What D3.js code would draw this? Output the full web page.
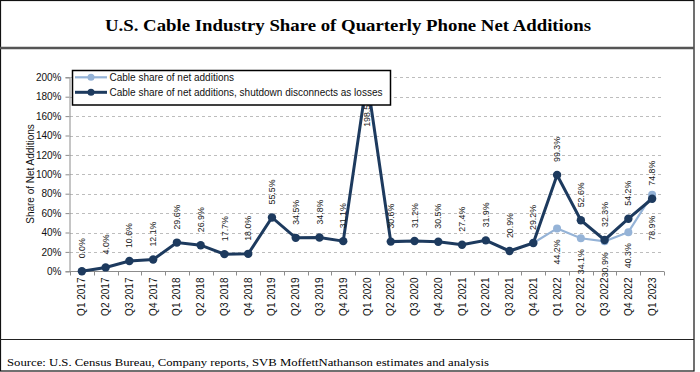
<!DOCTYPE html>
<html>
<head>
    <title>U.S. Cable Industry Share of Quarterly Phone Net Additions</title>
    <script src="https://d3js.org/d3.v7.min.js"></script>
    <style>
        body { margin: 0; background: #fff; }
        text { font-family: "Liberation Sans", Arial, sans-serif; }
        .serif { font-family: "Liberation Serif", "Times New Roman", serif; }
    </style>
</head>
<body>
    <svg id="chart"></svg>

    <script>
        // Quarters on the x axis
        const quarters = [
            'Q1 2017', 'Q2 2017', 'Q3 2017', 'Q4 2017',
            'Q1 2018', 'Q2 2018', 'Q3 2018', 'Q4 2018',
            'Q1 2019', 'Q2 2019', 'Q3 2019', 'Q4 2019',
            'Q1 2020', 'Q2 2020', 'Q3 2020', 'Q4 2020',
            'Q1 2021', 'Q2 2021', 'Q3 2021', 'Q4 2021',
            'Q1 2022', 'Q2 2022', 'Q3 2022', 'Q4 2022',
            'Q1 2023'
        ];

        // Cable share, shutdown disconnects as losses (%)
        const shutdownShare = [
            0.0, 4.0, 10.6, 12.1,
            29.6, 26.9, 17.7, 18.0,
            55.5, 34.5, 34.8, 31.1,
            198.5, 30.6, 31.2, 30.5,
            27.4, 31.9, 20.9, 29.2,
            99.3, 52.6, 32.3, 54.2,
            74.8
        ];

        // Cable share of net additions (%), only differs from 2022 on
        const cableShare = [
            null, null, null, null,
            null, null, null, null,
            null, null, null, null,
            null, null, null, null,
            null, null, null, 29.2,
            44.2, 34.1, 30.9, 40.3,
            78.9
        ];

        const yTicks = [0, 20, 40, 60, 80, 100, 120, 140, 160, 180, 200];

        const seriesNames = [
            'Cable share of net additions',
            'Cable share of net additions, shutdown disconnects as losses'
        ];

        const width = 700;
        const height = 372;
        const darkColor = '#1d3a5e';
        const lightColor = '#95b3d7';

        const svg = d3.select('#chart')
            .attr('width', width)
            .attr('height', height);

        // Frame, title and source
        svg.append('rect')
            .attr('x', 0.5).attr('y', 0.5)
            .attr('width', 693.5).attr('height', 370.5)
            .attr('fill', 'none').attr('stroke', '#111').attr('stroke-width', 1.2);

        svg.append('line')
            .attr('x1', 0).attr('x2', 694)
            .attr('y1', 48).attr('y2', 48)
            .attr('stroke', '#555').attr('stroke-width', 2.5);

        svg.append('line')
            .attr('x1', 0).attr('x2', 694)
            .attr('y1', 339.5).attr('y2', 339.5)
            .attr('stroke', '#222').attr('stroke-width', 1);

        svg.append('text')
            .attr('class', 'serif')
            .attr('x', 348).attr('y', 31)
            .attr('text-anchor', 'middle')
            .attr('font-size', 16.5)
            .attr('font-weight', 'bold')
            .attr('textLength', 486)
            .attr('lengthAdjust', 'spacingAndGlyphs')
            .text('U.S. Cable Industry Share of Quarterly Phone Net Additions');

        svg.append('text')
            .attr('class', 'serif')
            .attr('x', 7).attr('y', 366)
            .attr('font-size', 11)
            .attr('textLength', 482)
            .attr('lengthAdjust', 'spacingAndGlyphs')
            .text('Source: U.S. Census Bureau, Company reports, SVB MoffettNathanson estimates and analysis');

        // Scales
        const xScale = d3.scaleBand()
            .domain(quarters)
            .range([70, 664]);

        const yScale = d3.scaleLinear()
            .domain([0, 200])
            .range([271.3, 77.3]);

        const cx = (d, i) => xScale(quarters[i]) + xScale.bandwidth() / 2;

        // Gridlines
        svg.append('g')
            .selectAll('line')
            .data(yTicks.filter(t => t > 0))
            .enter()
            .append('line')
            .attr('x1', 70).attr('x2', 664)
            .attr('y1', d => Math.round(yScale(d)) + 0.5)
            .attr('y2', d => Math.round(yScale(d)) + 0.5)
            .attr('stroke', '#bdbdbd')
            .attr('stroke-dasharray', '3,3');

        // Y axis
        const yAxis = svg.append('g')
            .attr('transform', 'translate(69.5,0)')
            .call(d3.axisLeft(yScale).tickValues(yTicks).tickSize(4).tickFormat(d => d + '%'));
        yAxis.select('.domain').attr('stroke', '#8c8c8c');
        yAxis.selectAll('.tick line').attr('stroke', '#8c8c8c');
        yAxis.selectAll('.tick text')
            .attr('font-family', '"Liberation Sans", Arial, sans-serif')
            .attr('font-size', 10)
            .attr('fill', '#111')
            .attr('x', -8);

        // X axis with ticks between categories
        const xAxisG = svg.append('g')
            .attr('transform', 'translate(0,271.5)');
        xAxisG.append('line')
            .attr('x1', 69.5).attr('x2', 664)
            .attr('stroke', '#8c8c8c');
        xAxisG.selectAll('.xt')
            .data(quarters.concat(['end']))
            .enter()
            .append('line')
            .attr('class', 'xt')
            .attr('x1', (d, i) => Math.round(70 + i * xScale.step()) + 0.5)
            .attr('x2', (d, i) => Math.round(70 + i * xScale.step()) + 0.5)
            .attr('y1', 0).attr('y2', 4)
            .attr('stroke', '#8c8c8c');
        xAxisG.selectAll('.xl')
            .data(quarters)
            .enter()
            .append('text')
            .attr('class', 'xl')
            .attr('transform', d => `translate(${xScale(d) + xScale.bandwidth() / 2},6) rotate(-90)`)
            .attr('text-anchor', 'end')
            .attr('dy', '0.35em')
            .attr('font-size', 10)
            .attr('fill', '#111')
            .text(d => d);

        // Axis title
        svg.append('text')
            .attr('transform', 'translate(30,174) rotate(-90)')
            .attr('text-anchor', 'middle')
            .attr('dy', '0.35em')
            .attr('font-size', 10)
            .attr('fill', '#111')
            .text('Share of Net Additions');

        // Lines
        const lightLine = d3.line()
            .defined(d => d !== null)
            .x(cx)
            .y(d => yScale(d));

        const darkLine = d3.line()
            .x(cx)
            .y(d => yScale(d));

        svg.append('path')
            .datum(cableShare)
            .attr('d', lightLine)
            .attr('fill', 'none')
            .attr('stroke', lightColor)
            .attr('stroke-width', 2.2);

        svg.selectAll('.lightDot')
            .data(cableShare)
            .enter()
            .filter(d => d !== null)
            .append('circle')
            .attr('class', 'lightDot')
            .attr('cx', (d, i) => cx(d, cableShare.indexOf(d)))
            .attr('cy', d => yScale(d))
            .attr('r', 4)
            .attr('fill', lightColor);

        svg.append('path')
            .datum(shutdownShare)
            .attr('d', darkLine)
            .attr('fill', 'none')
            .attr('stroke', darkColor)
            .attr('stroke-width', 3);

        svg.selectAll('.darkDot')
            .data(shutdownShare)
            .enter()
            .append('circle')
            .attr('class', 'darkDot')
            .attr('cx', cx)
            .attr('cy', d => yScale(d))
            .attr('r', 4.2)
            .attr('fill', darkColor);

        // Data labels: dark series above the point
        svg.selectAll('.darkLabel')
            .data(shutdownShare)
            .enter()
            .append('text')
            .attr('class', 'darkLabel')
            .attr('text-anchor', 'start')
            .attr('dy', '0.35em')
            .attr('font-size', 8.8)
            .attr('fill', '#1a1a1a')
            .text(d => d.toFixed(1) + '%')
            .each(function(d, i) {
                const len = this.getComputedTextLength();
                const bottom = Math.max(yScale(d) - 13, 97 + len);
                d3.select(this).attr('transform', `translate(${cx(d, i)},${bottom}) rotate(-90)`);
            });

        // Light series labels below the point, where the series differs
        const lightIdx = d3.range(20, 25);
        svg.selectAll('.lightLabel')
            .data(lightIdx)
            .enter()
            .append('text')
            .attr('class', 'lightLabel')
            .attr('transform', i => `translate(${cx(null, i)},${yScale(cableShare[i]) + (i === 24 ? 21 : 11)}) rotate(-90)`)
            .attr('text-anchor', 'end')
            .attr('dy', '0.35em')
            .attr('font-size', 8.8)
            .attr('fill', '#1a1a1a')
            .text(i => cableShare[i].toFixed(1) + '%');

        // Legend
        const legend = svg.append('g');
        legend.append('rect')
            .attr('x', 72.5).attr('y', 70.5)
            .attr('width', 318).attr('height', 34.5)
            .attr('fill', '#fff')
            .attr('stroke', '#000')
            .attr('stroke-width', 1.5);

        const legendRows = [
            { name: seriesNames[0], color: lightColor, y: 77.3, w: 2.2 },
            { name: seriesNames[1], color: darkColor, y: 92.3, w: 3 }
        ];

        legendRows.forEach(r => {
            legend.append('line')
                .attr('x1', 75).attr('x2', 107)
                .attr('y1', r.y).attr('y2', r.y)
                .attr('stroke', r.color)
                .attr('stroke-width', r.w);
            legend.append('circle')
                .attr('cx', 91).attr('cy', r.y)
                .attr('r', 3.5)
                .attr('fill', r.color);
            legend.append('text')
                .attr('x', 109.5).attr('y', r.y)
                .attr('dy', '0.35em')
                .attr('font-size', 10)
                .attr('fill', '#111')
                .text(r.name);
        });
    </script>
</body>
</html>
